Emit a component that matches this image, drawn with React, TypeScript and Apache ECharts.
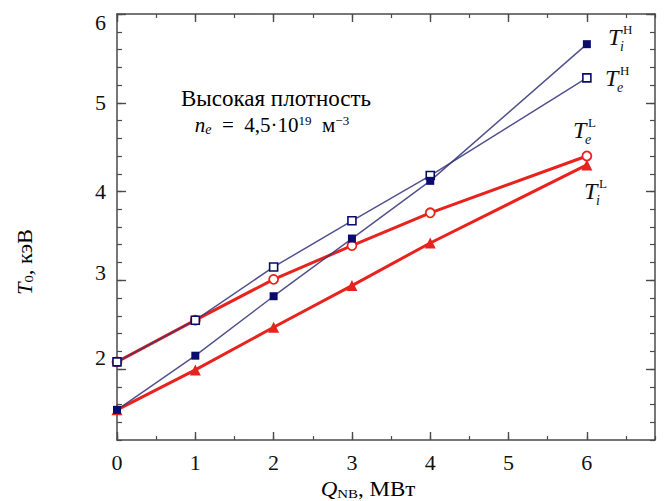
import React, { useEffect, useRef } from 'react';
import * as echarts from 'echarts';

// Neutral-beam heating power, MW
const powerMW = [0, 1, 2, 3, 4, 6];
// Central temperatures, keV
const ionTempHigh = [1.54, 2.15, 2.82, 3.47, 4.12, 5.66];
const electronTempHigh = [2.08, 2.55, 3.15, 3.67, 4.18, 5.28];
const electronTempLow = [2.08, 2.55, 3.01, 3.39, 3.76, 4.4];
const ionTempLow = [1.54, 1.99, 2.47, 2.94, 3.42, 4.3];

const xTickValues = [0, 1, 2, 3, 4, 5, 6];
const yTickValues = [2, 3, 4, 5, 6];

const SERIF = "'Liberation Serif', 'Times New Roman', serif";
const INK = '#111111';
const AXIS = '#4a4a4a';
const BLUE_LINE = '#34347a';
const BLUE_MARK = '#0b0b6e';
const RED = '#e8231d';

// vertical nudge (px) of each y tick label relative to its tick
const Y_LABEL_NUDGE: Record<number, number> = { 6: 8, 5: 0, 4: 0, 3: -8, 2: -12 };

const pairs = (ys: number[]) => powerMW.map((x, i) => [x, ys[i]]);

const isWhole = (v: number) => Math.abs(v - Math.round(v)) < 1e-6;

function tempLabel(left: number, cy: number, sub: string, sup: string) {
  const base = { fill: INK, fontFamily: SERIF, align: 'left', verticalAlign: 'middle' };
  return {
    type: 'group',
    children: [
      { type: 'text', x: left, y: cy, style: { ...base, text: 'T', fontSize: 24, fontStyle: 'italic' } },
      { type: 'text', x: left + 12, y: cy + 9, style: { ...base, text: sub, fontSize: 14, fontStyle: 'italic' } },
      { type: 'text', x: left + 15, y: cy - 8, style: { ...base, text: sup, fontSize: 13, fontStyle: 'normal' } },
    ],
  };
}

const richBase = {
  m: { fontFamily: SERIF, fontSize: 21, lineHeight: 22, color: INK, fontStyle: 'normal' },
  mi: { fontFamily: SERIF, fontSize: 21, lineHeight: 22, color: INK, fontStyle: 'italic' },
  subi: { fontFamily: SERIF, fontSize: 14, lineHeight: 12, color: INK, verticalAlign: 'bottom', fontStyle: 'italic' },
  sup: { fontFamily: SERIF, fontSize: 13, lineHeight: 13, color: INK, verticalAlign: 'top', fontStyle: 'normal' },
};
const richTitle = {
  m: { fontFamily: SERIF, fontSize: 23, lineHeight: 24, color: INK, fontStyle: 'normal' },
};
const richName = {
  m: { fontFamily: SERIF, fontSize: 20, lineHeight: 20, color: INK, fontStyle: 'normal' },
  mi: { fontFamily: SERIF, fontSize: 20, lineHeight: 20, color: INK, fontStyle: 'italic' },
  sub: { fontFamily: SERIF, fontSize: 13, lineHeight: 12, color: INK, verticalAlign: 'bottom', fontStyle: 'normal' },
};
const richTickX = {
  d: { fontFamily: SERIF, fontSize: 22, color: INK, fontStyle: 'normal' },
};
const richTickY: Record<string, any> = {
  d: { fontFamily: SERIF, fontSize: 22, lineHeight: 22, color: INK, fontStyle: 'normal' },
};
yTickValues.forEach((v) => {
  const s = Math.abs(Y_LABEL_NUDGE[v] || 0);
  if (s) richTickY['g' + v] = { fontFamily: SERIF, fontSize: 8, lineHeight: 2 * s, color: INK };
});

function valueAxis(kind: 'x' | 'y', position: string, opts: any) {
  const ext = kind === 'x' ? { min: 0, max: 6.87 } : { min: 1.2, max: 6 };
  return {
    type: 'value',
    position,
    ...ext,
    splitLine: { show: false },
    axisLine: { show: false, onZero: false, lineStyle: { color: AXIS, width: 1.5 } },
    axisLabel: { show: false },
    ...opts,
  };
}

const xTickFormatter = (v: number) =>
  isWhole(v) && xTickValues.includes(Math.round(v)) ? `{d|${Math.round(v)}}` : '';

// an invisible spacer line above or below the digit moves it off the tick
const yTickFormatter = (v: number) => {
  if (!isWhole(v)) return '';
  const n = Math.round(v);
  if (!yTickValues.includes(n)) return '';
  const s = Y_LABEL_NUDGE[n] || 0;
  if (s > 0) return `{g${n}| }\n{d|${n}}`;
  if (s < 0) return `{d|${n}}\n{g${n}| }`;
  return `{d|${n}}`;
};

export default function App() {
  const ref = useRef<HTMLDivElement>(null);

  useEffect(() => {
    document.body.style.margin = '0';
    if (!ref.current) return;
    const chart = echarts.init(ref.current, undefined, { renderer: 'svg' });

    const minorTick = (len: number) => ({ show: true, inside: true, length: len, lineStyle: { color: AXIS, width: 1.2 } });
    const majorTick = (len: number, values: number[]) => ({
      show: true, inside: true, length: len, customValues: values, lineStyle: { color: AXIS, width: 1.4 },
    });
    const frameLine = { show: true, onZero: false, lineStyle: { color: AXIS, width: 1.5 } };

    const option: any = {
      animation: false,
      backgroundColor: '#ffffff',
      textStyle: { fontFamily: SERIF },
      grid: { left: 117, right: 10, top: 14, bottom: 61, outerBoundsMode: 'none' },
      xAxis: [
        valueAxis('x', 'bottom', {
          interval: 0.5,
          axisLine: frameLine,
          axisTick: minorTick(4),
          axisLabel: {
            show: true, margin: 11, color: INK, fontFamily: SERIF, fontSize: 22,
            formatter: xTickFormatter, rich: richTickX,
          },
        }),
        valueAxis('x', 'bottom', { interval: 1, axisTick: majorTick(8, xTickValues) }),
        valueAxis('x', 'top', { interval: 0.5, axisLine: frameLine, axisTick: minorTick(4) }),
        valueAxis('x', 'top', { interval: 1, axisTick: majorTick(8, xTickValues) }),
      ],
      yAxis: [
        valueAxis('y', 'left', {
          interval: 0.2,
          axisLine: frameLine,
          axisTick: minorTick(5),
          axisLabel: {
            show: true, margin: 11, color: INK, fontFamily: SERIF, fontSize: 22,
            formatter: yTickFormatter, rich: richTickY,
          },
        }),
        valueAxis('y', 'left', { interval: 0.2, axisTick: majorTick(9, yTickValues) }),
        valueAxis('y', 'right', { interval: 0.2, axisLine: frameLine, axisTick: minorTick(5) }),
        valueAxis('y', 'right', { interval: 0.2, axisTick: majorTick(9, yTickValues) }),
      ],
      series: [
        {
          name: 'Te L', type: 'line', data: pairs(electronTempLow),
          symbol: 'circle', symbolSize: 9,
          lineStyle: { color: RED, width: 3 },
          itemStyle: { color: '#ffffff', borderColor: RED, borderWidth: 1.8 },
          z: 2,
        },
        {
          name: 'Ti L', type: 'line', data: pairs(ionTempLow),
          symbol: 'triangle', symbolSize: 11,
          lineStyle: { color: RED, width: 3 },
          itemStyle: { color: RED },
          z: 2,
        },
        {
          name: 'Te H', type: 'line', data: pairs(electronTempHigh),
          symbol: 'rect', symbolSize: 8,
          lineStyle: { color: BLUE_LINE, width: 1.5, opacity: 0.85 },
          itemStyle: { color: '#ffffff', borderColor: BLUE_MARK, borderWidth: 1.6 },
          z: 3,
        },
        {
          name: 'Ti H', type: 'line', data: pairs(ionTempHigh),
          symbol: 'rect', symbolSize: 8,
          lineStyle: { color: BLUE_LINE, width: 1.5, opacity: 0.85 },
          itemStyle: { color: BLUE_MARK },
          z: 3,
        },
      ],
      graphic: [
        {
          type: 'text', x: 25, y: 262, rotation: Math.PI / 2, scaleX: 1.12,
          style: {
            text: '{mi|T}{sub|0}{m|, кэВ}', rich: richName, align: 'center', verticalAlign: 'middle',
          },
        },
        {
          type: 'text', x: 368, y: 490, scaleX: 1.15,
          style: {
            text: '{mi|Q}{sub|NB}{m|, МВт}', rich: richName, align: 'center', verticalAlign: 'middle',
          },
        },
        {
          type: 'text', x: 276, y: 98,
          style: { text: '{m|Высокая плотность}', rich: richTitle, align: 'center', verticalAlign: 'middle' },
        },
        {
          type: 'text', x: 272, y: 125,
          style: {
            text: '{mi|n}{subi|e}{m|\u2002=\u20024,5·10}{sup|19}{m|\u2002м}{sup|−3}', rich: richBase,
            align: 'center', verticalAlign: 'middle',
          },
        },
        tempLabel(608, 37, 'i', 'H'),
        tempLabel(605, 78, 'e', 'H'),
        tempLabel(573, 130, 'e', 'L'),
        tempLabel(584, 191, 'i', 'L'),
      ],
    };

    chart.setOption(option);
    return () => chart.dispose();
  }, []);

  return <div ref={ref} style={{ width: 665, height: 501 }} />;
}
